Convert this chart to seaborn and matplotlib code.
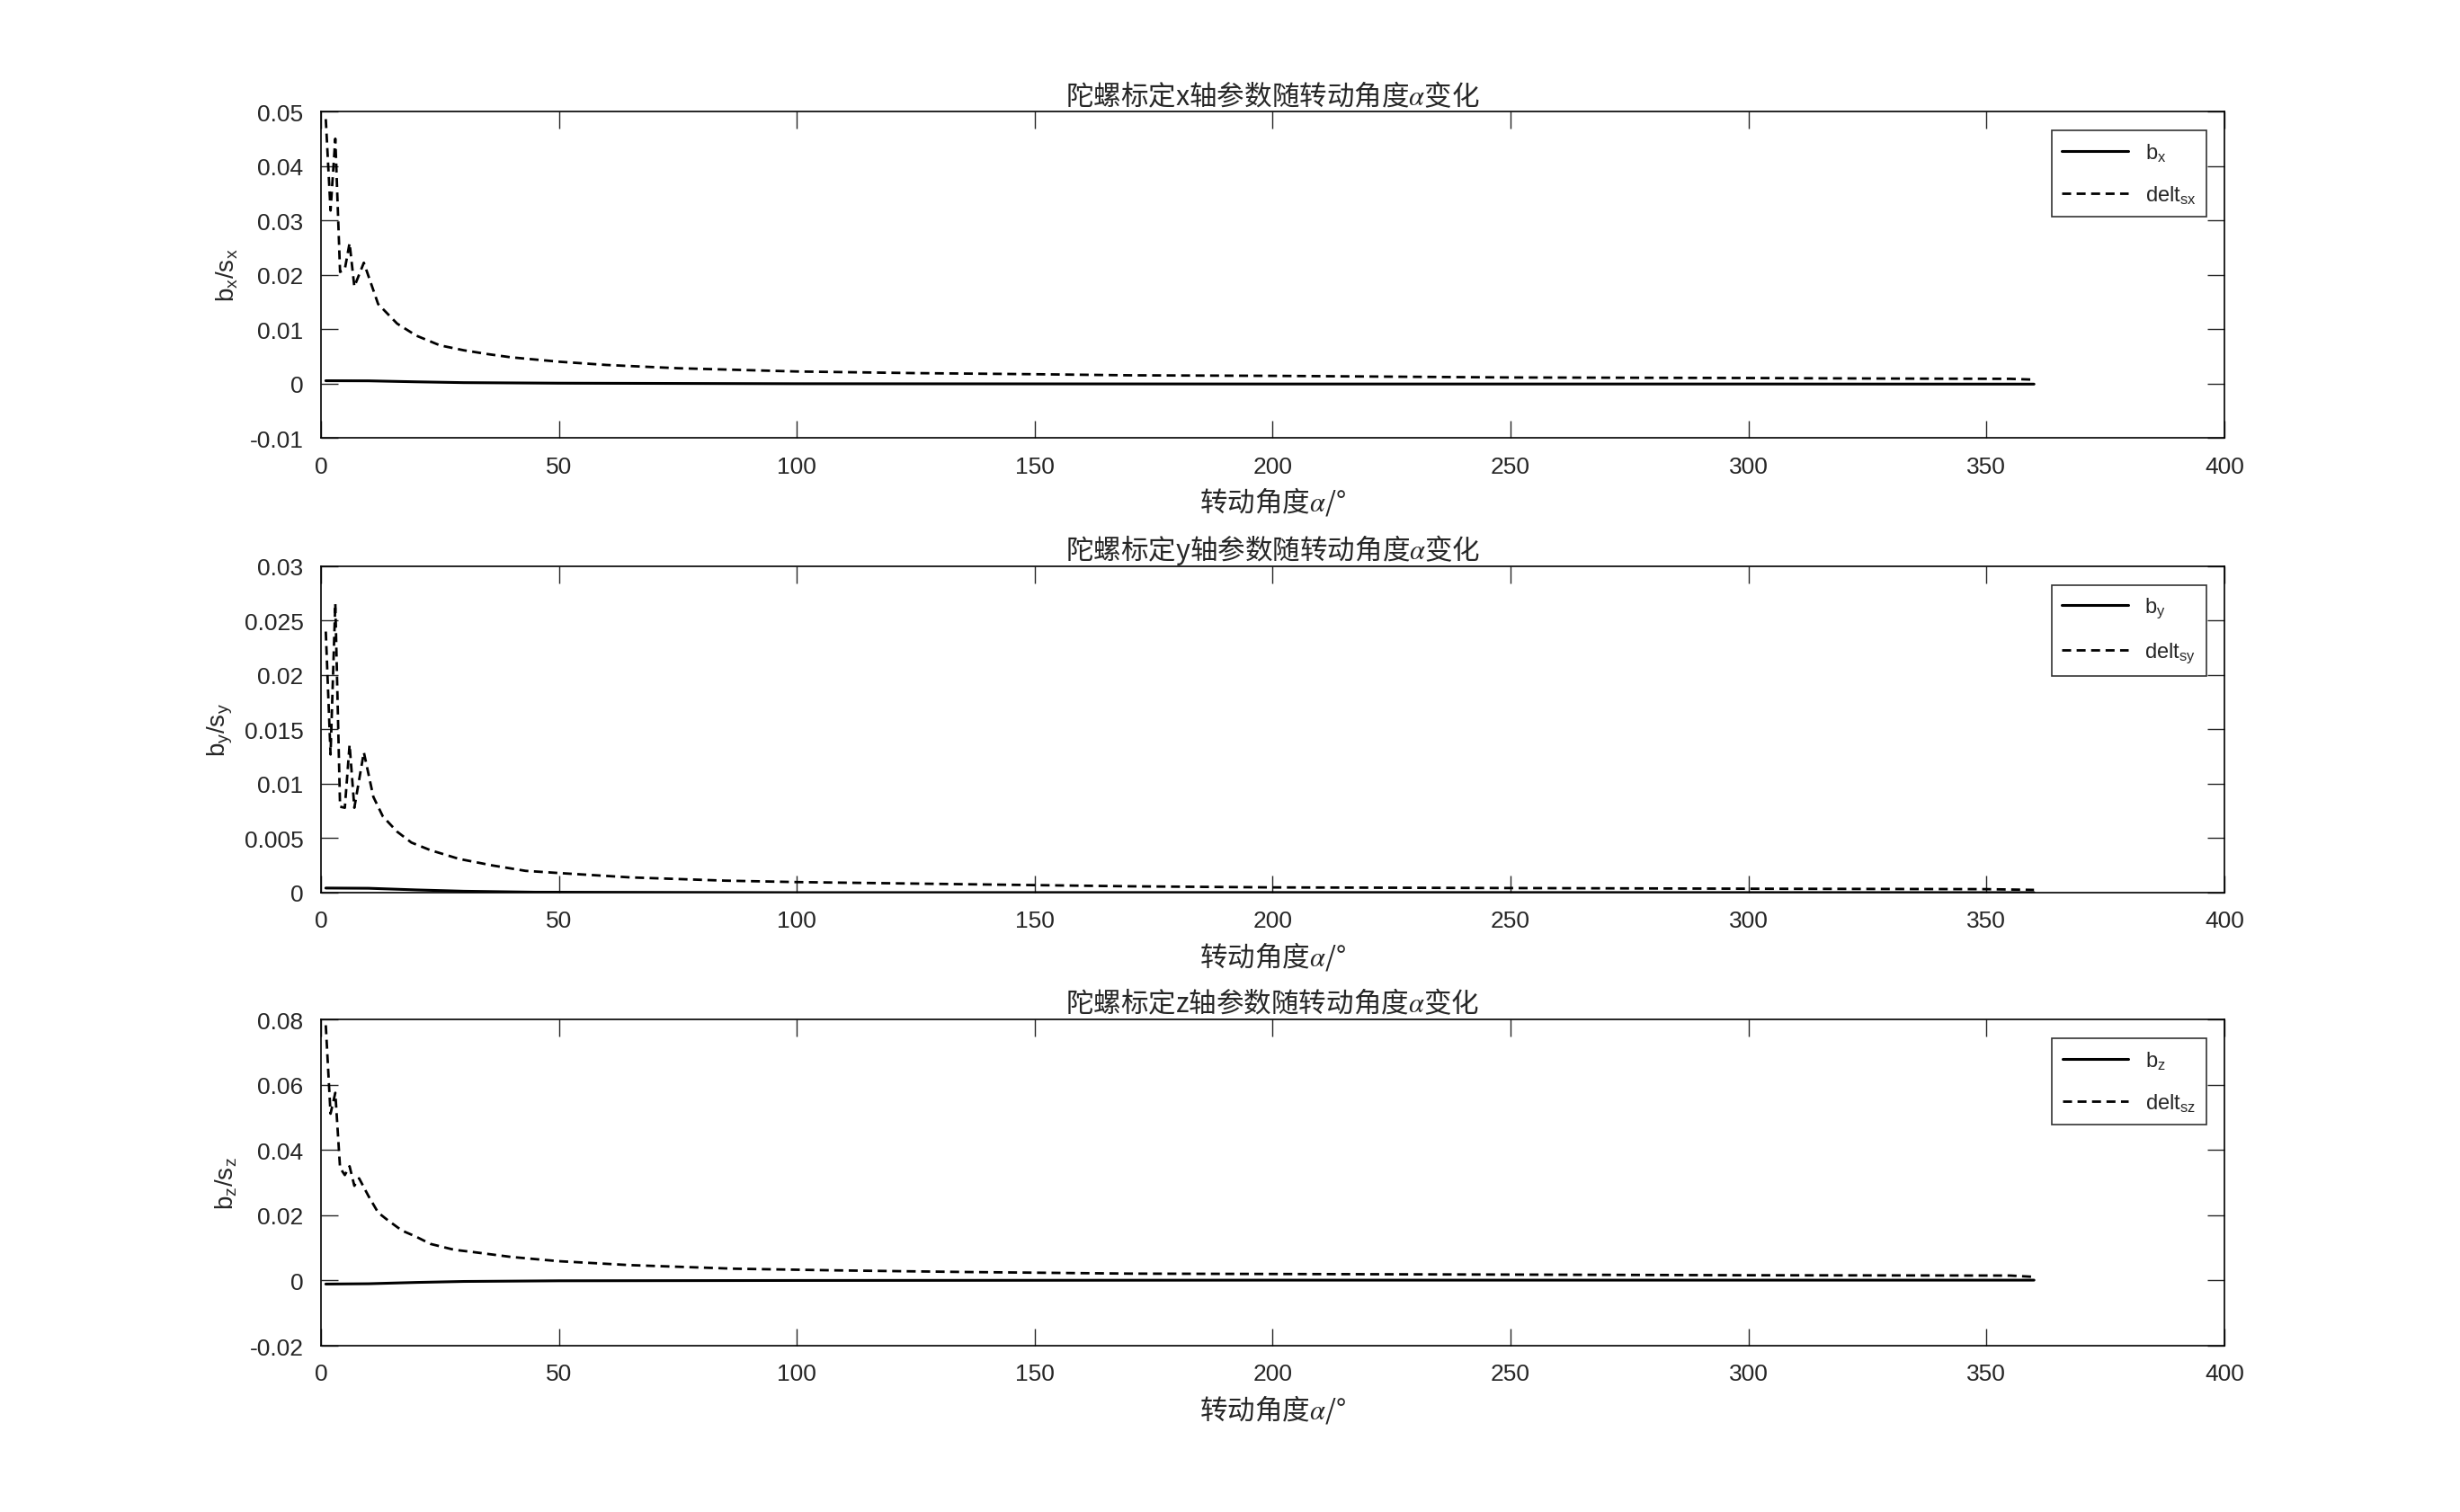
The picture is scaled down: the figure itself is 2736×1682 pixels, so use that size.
import numpy as np
import matplotlib
matplotlib.use("Agg")
import matplotlib.pyplot as plt
import seaborn as sns

# values (angle in degrees)
x_dx = [1, 2, 3, 4, 5, 6, 7, 9, 12, 16, 20, 25, 30, 35, 40, 50, 60, 75, 100,
        125, 150, 170, 200, 250, 300, 330, 355, 360]
delt_sx = [0.0486, 0.0318, 0.0450, 0.0205, 0.0210, 0.0258, 0.0178, 0.0222,
           0.0146, 0.0110, 0.0088, 0.0070, 0.0061, 0.0054, 0.0048, 0.0040,
           0.0034, 0.0028, 0.0022, 0.0019, 0.0017, 0.0015, 0.0014, 0.0011,
           0.0010, 0.0009, 0.00085, 0.0007]
x_bx = [1, 10, 20, 30, 50, 100, 200, 300, 360]
b_x = [0.0005, 0.00048, 0.0003, 0.00015, 0.00005, -0.00005, -0.0001, -0.0001, -0.00012]

x_dy = [1, 2, 3, 4, 5, 6, 7, 9, 11, 13, 16, 19, 23, 29, 36, 43, 50, 65, 85,
        100, 125, 150, 170, 200, 250, 300, 350, 360]
delt_sy = [0.0240, 0.0127, 0.0266, 0.0079, 0.0078, 0.0136, 0.0078, 0.0129,
           0.0088, 0.0070, 0.0056, 0.0046, 0.0039, 0.0031, 0.0025, 0.0020,
           0.0018, 0.0014, 0.0011, 0.00097, 0.00083, 0.00069, 0.00058,
           0.00048, 0.00042, 0.00036, 0.00032, 0.00025]
x_by = [1, 10, 20, 30, 45, 100, 200, 360]
b_y = [0.00042, 0.0004, 0.00025, 0.00013, 0.00004, 0.0, 0.00001, 0.0]

x_dz = [1, 2, 3, 4, 5, 6, 7, 8, 10, 12, 14, 17, 20, 23, 28, 32, 40, 50, 65,
        87, 108, 135, 170, 250, 300, 355, 360]
delt_sz = [0.0782, 0.0511, 0.0575, 0.0345, 0.0323, 0.0350, 0.0290, 0.0313,
           0.0258, 0.0208, 0.0185, 0.0153, 0.0134, 0.0112, 0.0094, 0.0087,
           0.0072, 0.0059, 0.0047, 0.0036, 0.0031, 0.0026, 0.0021, 0.0018,
           0.0016, 0.0015, 0.0011]
x_bz = [1, 10, 20, 30, 50, 100, 200, 300, 360]
b_z = [-0.0011, -0.001, -0.0006, -0.0003, -0.0001, 0.0, 0.0001, 0.0001, 0.0001]

axis_names = ["x", "y", "z"]
ylims = [(-0.01, 0.05), (0, 0.03), (-0.02, 0.08)]
yticks = [np.arange(-0.01, 0.051, 0.01), np.arange(0, 0.031, 0.005),
          np.arange(-0.02, 0.081, 0.02)]
ytick_labels = [["-0.01", "0", "0.01", "0.02", "0.03", "0.04", "0.05"],
                ["0", "0.005", "0.01", "0.015", "0.02", "0.025", "0.03"],
                ["-0.02", "0", "0.02", "0.04", "0.06", "0.08"]]

sns.set_theme(style="ticks")
plt.rcParams["font.family"] = ["Liberation Sans", "Noto Sans CJK SC", "DejaVu Sans"]
plt.rcParams["mathtext.fontset"] = "stix"
plt.rcParams["axes.unicode_minus"] = False

fig = plt.figure(figsize=(13.68, 8.415), dpi=200)
bottoms = [0.710, 0.4094, 0.1099]
series = [(x_bx, b_x, x_dx, delt_sx), (x_by, b_y, x_dy, delt_sy),
          (x_bz, b_z, x_dz, delt_sz)]

for i, name in enumerate(axis_names):
    ax = fig.add_axes([0.1305, bottoms[i], 0.7737, 0.2157])
    xb, yb, xd, yd = series[i]
    sns.lineplot(x=xb, y=yb, ax=ax, color="black", linewidth=1.1,
                 label=r"b$\mathregular{_{%s}}$" % name)
    sns.lineplot(x=xd, y=yd, ax=ax, color="black", linewidth=1.0,
                 linestyle=(0, (3.6, 2.2)),
                 label=r"delt$\mathregular{_{s%s}}$" % name)
    ax.set_xlim(0, 400)
    ax.set_ylim(*ylims[i])
    ax.set_xticks(np.arange(0, 401, 50))
    ax.set_yticks(yticks[i])
    ax.set_yticklabels(ytick_labels[i])
    ax.tick_params(axis="both", which="both", direction="in", top=True,
                   right=True, length=7, width=0.5, labelsize=9.5, pad=7)
    for sp in ax.spines.values():
        sp.set_linewidth(0.6)
        sp.set_color("black")
    # mathtext draws the plain part with one font only, so use the CJK face
    ax.set_title("陀螺标定%s轴参数随转动角度$\\alpha$变化" % name,
                 fontsize=11, pad=3, family="Noto Sans CJK SC")
    ax.set_xlabel("转动角度$\\alpha$/°", fontsize=11, labelpad=3,
                  family="Noto Sans CJK SC")
    ax.set_ylabel(r"$\mathregular{b_%s/s_%s}$" % (name, name), fontsize=10,
                  labelpad=4)
    leg = ax.legend(loc="upper right", bbox_to_anchor=(0.9906, 0.942),
                    fontsize=8.5, handlelength=3.1, frameon=True, fancybox=False,
                    edgecolor="black", borderaxespad=0, labelspacing=0.95,
                    borderpad=0.5)
    leg.get_frame().set_linewidth(0.6)

fig.savefig("out.png", dpi=200, facecolor="white")
